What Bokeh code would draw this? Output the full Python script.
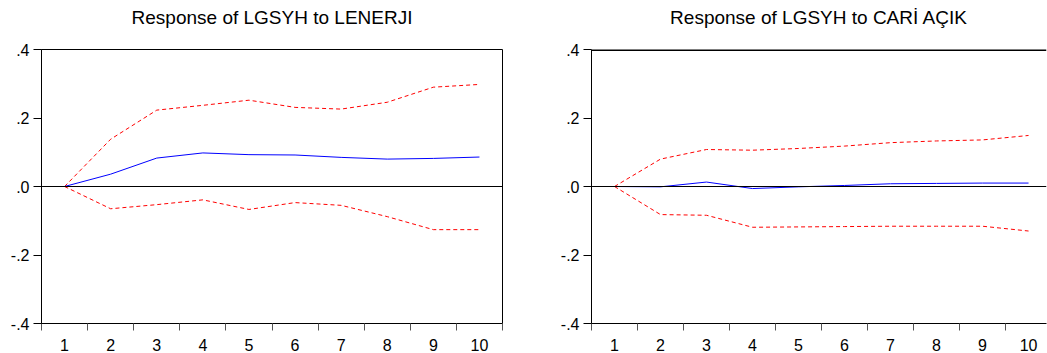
from bokeh.plotting import figure
from bokeh.layouts import row
from bokeh.models import Range1d, FixedTicker, Span, Title
from bokeh.embed import file_html
from bokeh.resources import INLINE

# ---- data ----
periods = [1, 2, 3, 4, 5, 6, 7, 8, 9, 10]
titles = ["Response of LGSYH to LENERJI", "Response of LGSYH to CARİ AÇIK"]

lenerji_resp = [0.0, 0.036, 0.083, 0.098, 0.093, 0.092, 0.085, 0.080, 0.082, 0.086]
lenerji_upper = [0.0, 0.138, 0.223, 0.237, 0.252, 0.231, 0.226, 0.246, 0.290, 0.298]
lenerji_lower = [0.0, -0.065, -0.053, -0.039, -0.067, -0.047, -0.055, -0.088, -0.126, -0.126]

cari_resp = [0.0, -0.001, 0.013, -0.006, -0.001, 0.003, 0.008, 0.009, 0.010, 0.010]
cari_upper = [0.0, 0.080, 0.108, 0.106, 0.111, 0.118, 0.128, 0.133, 0.136, 0.149]
cari_lower = [0.0, -0.082, -0.084, -0.119, -0.118, -0.117, -0.116, -0.116, -0.116, -0.130]

y_ticks = [-0.4, -0.2, 0.0, 0.2, 0.4]
y_tick_labels = ["-.4", "-.2", ".0", ".2", ".4"]

FONT = "Liberation Sans"


def make_panel(title, resp, upper, lower, width, border_left, border_right, x_end, outline):
    p = figure(width=width, height=353, output_backend="svg", toolbar_location=None,
               x_range=Range1d(0.5, x_end), y_range=Range1d(-0.4, 0.4),
               min_border_left=border_left, min_border_right=border_right,
               min_border_top=49, min_border_bottom=28)
    # blank spacer between the title and the frame
    p.add_layout(Title(text=" ", text_font_size="6px", standoff=14), "above")
    p.title.text = title
    p.title.text_font = FONT
    p.title.text_font_size = "19px"
    p.title.text_font_style = "normal"
    p.title.text_color = "black"
    p.title.align = "center"
    p.title.vertical_align = "bottom"
    p.title.standoff = 0
    p.grid.visible = False
    p.background_fill_color = "white"
    p.border_fill_color = "white"
    p.outline_line_color = "black" if outline else None
    p.outline_line_alpha = 1.0

    # x axis: labels at periods, tick marks between them
    xa = p.xaxis[0]
    xa.ticker = FixedTicker(ticks=periods, minor_ticks=[k - 0.5 for k in periods] + [periods[-1] + 0.5])
    xa.major_tick_out = 0
    xa.major_tick_in = 0
    xa.minor_tick_out = 7
    xa.minor_tick_in = 0
    xa.minor_tick_line_color = "#555555"
    xa.axis_line_color = "black"
    xa.major_label_text_font = FONT
    xa.major_label_text_font_size = "16px"
    xa.major_label_text_color = "black"
    xa.major_label_standoff = 8

    ya = p.yaxis[0]
    ya.ticker = FixedTicker(ticks=y_ticks)
    ya.major_label_overrides = dict(zip(y_ticks, y_tick_labels))
    ya.major_tick_out = 8
    ya.major_tick_in = 0
    ya.minor_tick_out = 0
    ya.minor_tick_in = 0
    ya.axis_line_color = "black"
    ya.major_tick_line_color = "black"
    ya.major_label_text_font = FONT
    ya.major_label_text_font_size = "16px"
    ya.major_label_text_color = "black"
    ya.major_label_standoff = 4

    p.add_layout(Span(location=0, dimension="width", line_color="black", line_width=1))
    if not outline:
        p.add_layout(Span(location=0.4, dimension="width", line_color="black", line_width=3))

    p.line(periods, upper, line_color="#FF0000", line_width=1, line_dash="4 3")
    p.line(periods, lower, line_color="#FF0000", line_width=1, line_dash="4 3")
    p.line(periods, resp, line_color="#0000FF", line_width=1)
    return p


p1 = make_panel(titles[0], lenerji_resp, lenerji_upper, lenerji_lower,
                width=520, border_left=41, border_right=18, x_end=10.5, outline=True)
p2 = make_panel(titles[1], cari_resp, cari_upper, cari_lower,
                width=527, border_left=71, border_right=1, x_end=10.39, outline=False)

layout = row(p1, p2)
open("out.html", "w").write(file_html(layout, INLINE))
